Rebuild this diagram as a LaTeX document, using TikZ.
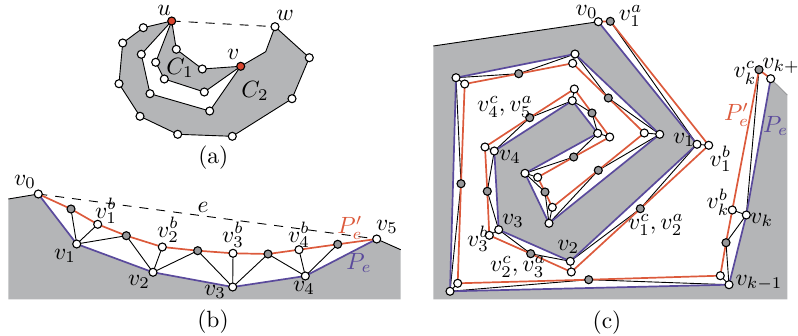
\documentclass[tikz,border=0pt]{standalone}
\pgfdeclarelayer{bg}
\pgfsetlayers{bg,main}
\definecolor{gfill}{HTML}{B4B5B7}
\definecolor{rline}{HTML}{DC5A3C}
\definecolor{bline}{HTML}{5A4A9C}
\definecolor{rnode}{HTML}{D8452E}
\definecolor{gnode}{HTML}{97989A}
\tikzset{
  pt/.style={circle,draw=black,line width=1.1pt,minimum size=8pt,inner sep=0pt},
  wn/.style={pt,fill=white},
  gn/.style={pt,fill=gnode},
  rn/.style={pt,fill=rnode},
  lbl/.style={scale=2.35,inner sep=0pt},
  blk/.style={draw=black,line width=.9pt,line join=round},
  red/.style={draw=rline,line width=1.7pt,line join=round},
  blu/.style={draw=bline,line width=1.7pt,line join=round},
  dsh/.style={draw=black,line width=.9pt,dash pattern=on 9pt off 8pt},
  shade/.style={fill=gfill,draw=none}
}
\begin{document}
\begin{tikzpicture}[x=1pt,y=-1pt]
\useasboundingbox (0,0) rectangle (798,336);
% ---------- (a)
\foreach \n/\x/\y in {a1/143.3/27.7,a2/122.7/43,a3/119/83.7,a4/140/116.3,a5/177.7/134.3,a6/232.3/136.3,a7/292/98.7,a8/309.3/57.7,w/275/26.7,a9/209.7/111,a10/150/93.7,a11/141.3/54.3,c1/176.3/49.3,c2/202.3/69,c3/204.3/92,c4/164.3/79,c5/155.7/62.3}
  \node[wn] (\n) at (\x,\y) {};
\node[rn] (u) at (171.7,21) {};
\node[rn] (v) at (240.7,66.3) {};
\coordinate (abend) at (265.7,51.7);
\begin{pgfonlayer}{bg}
\path[shade,blk,fill=gfill] (u.center)--(a1.center)--(a2.center)--(a3.center)--(a4.center)--(a5.center)--(a6.center)--(a7.center)--(a8.center)--(w.center)--(abend)--(v.center)--(a9.center)--(a10.center)--(a11.center)--cycle;
\path[shade,blk,fill=gfill] (u.center)--(c1.center)--(c2.center)--(v.center)--(c3.center)--(c4.center)--(c5.center)--cycle;
\path[dsh] (u.center)--(w.center);
\end{pgfonlayer}
\node[lbl] (lu) at (164,10) {$u$};
\node[lbl] (lw) at (285,15) {$w$};
\node[lbl] (lv) at (233.3,54) {$v$};
\node[lbl] (lc1) at (180,68) {$C_1$};
\node[lbl] (lc2) at (255,91) {$C_2$};
\node[lbl] (capa) at (213.3,158) {(a)};
% ---------- (b)
\coordinate (bl) at (8.3,199);
\coordinate (br) at (400.7,249.7);
\coordinate (bbr) at (400.7,299.3);
\coordinate (bbl) at (8.3,299.3);
\foreach \n/\x/\y in {b0/38.3/194,b1/76.7/244,b2/153/272.3,b3/232.7/287,b4/305.3/276,b5/376.7/239,bb1/97.7/224.3,bb2/162.3/247,bb3/233/253.3,bb4/299/249.7}
  \node[wn] (\n) at (\x,\y) {};
\foreach \n/\x/\y in {bg1/71/209,bg2/126.3/235.7,bg3/197.7/250.7,bg4/268/254,bg5/337.7/244.3}
  \node[gn] (\n) at (\x,\y) {};
\begin{pgfonlayer}{bg}
\path[shade] (bl)--(b0.center)--(b1.center)--(b2.center)--(b3.center)--(b4.center)--(b5.center)--(br)--(bbr)--(bbl)--cycle;
\path[blk] (bl)--(b0.center);
\path[blk] (b5.center)--(br);
\path[dsh] (b0.center)--(b5.center);
\foreach \p/\q in {bg1/b1,b1/bb1,b1/bg2,bg2/b2,b2/bb2,b2/bg3,bg3/b3,b3/bb3,b3/bg4,bg4/b4,b4/bb4,b4/bg5}
  \path[blk] (\p.center)--(\q.center);
\path[blu] (b0.center)--(b1.center)--(b2.center)--(b3.center)--(b4.center)--(b5.center);
\path[red] (b0.center)--(bg1.center)--(bb1.center)--(bg2.center)--(bb2.center)--(bg3.center)--(bb3.center)--(bg4.center)--(bb4.center)--(bg5.center)--(b5.center);
\end{pgfonlayer}
\node[lbl] (lb0) at (25,182) {$v_0$};
\node[lbl] (lb1) at (65,256) {$v_1$};
\node[lbl] (lb2) at (139,282) {$v_2$};
\node[lbl] (lb3) at (215,292) {$v_3$};
\node[lbl] (lb4) at (304,288) {$v_4$};
\node[lbl] (lb5) at (387,227) {$v_5$};
\node[lbl] (lbb1) at (106,211) {$v_1^b$};
\node[lbl] (lbb2) at (168,230) {$v_2^b$};
\node[lbl] (lbb3) at (233,235) {$v_3^b$};
\node[lbl] (lbb4) at (299,235) {$v_4^b$};
\node[lbl] (le) at (203,207) {$e$};
\node[lbl,text=rline] (lpp) at (350,228) {$P'_e$};
\node[lbl,text=bline] (lp) at (359,263) {$P_e$};
\node[lbl] (capb) at (213,322) {(b)};
% ---------- (c)
\coordinate (ctl) at (433.3,46);
\coordinate (ctr) at (787.3,95);
\coordinate (cbr) at (787.3,299.3);
\coordinate (cbl) at (433.3,299.3);
% blue path vertices
\foreach \n/\x/\y in {p0/598.3/21.7,p1/697/144.3,p2/570.3/261.3,p3/498.7/229.7,p4/494.3/151,p5/572.3/100.7,p6/597.7/133.3,p7/525/173.3,p8/549/223.3,p9/659.7/134.3,p10/575/54,p11/456/77.7,p12/450/291.3,p13/729/284.7,p14/746.3/215,p15/770.7/78.7}
  \node[wn] (\n) at (\x,\y) {};
% red path white vertices
\foreach \n/\x/\y in {q1/708.7/145.3,q2/571.3/272,q3/489.3/235.3,q4/485/147,q5/574.3/89,q6/609.7/137,q7/537.7/177.3,q8/552.3/207.3,q9/644.3/133,q10/572.7/63.3,q11/464.7/84,q12/457.7/283.3,q13/720.3/275.7,q14/732.3/210}
  \node[wn] (\n) at (\x,\y) {};
% grey vertices
\foreach \n/\x/\y in {g0/610.3/21.3,g1/640.3/208.7,g2/530.7/253.7,g3/487.3/191.3,g4/529.7/117.7,g5/592/113,g6/573.7/157,g7/545/192,g8/598.3/170.3,g9/608.3/98,g10/518.7/73.7,g11/461/183.7,g12/588.7/279.7,g13/726/242.7,g14/759/69.7}
  \node[gn] (\n) at (\x,\y) {};
\begin{pgfonlayer}{bg}
\path[shade] (ctl)--(p0.center)--(p1.center)--(p2.center)--(p3.center)--(p4.center)--(p5.center)--(p6.center)--(p7.center)--(p8.center)--(p9.center)--(p10.center)--(p11.center)--(p12.center)--(p13.center)--(p14.center)--(p15.center)--(ctr)--(cbr)--(cbl)--cycle;
\path[blk] (ctl)--(p0.center);
\path[draw=gnode,line width=.9pt] (p15.center)--(ctr);
% black links
\foreach \p/\q in {g0/p1,p1/g1,g1/p2,p2/g2,g2/p3,p3/g3,g3/p4,p4/g4,g4/p5,p5/g5,g5/p6,p6/g6,g6/p7,p7/g7,g7/p8,p8/g8,g8/p9,p9/g9,g9/p10,p10/g10,g10/p11,p11/g11,g11/p12,p12/g12,g12/p13,p13/g13,g13/p14,p14/g14,p1/q1,p2/q2,p3/q3,p4/q4,p5/q5,p6/q6,p7/q7,p8/q8,p9/q9,p10/q10,p11/q11,p12/q12,p13/q13,p14/q14}
  \path[blk] (\p.center)--(\q.center);
\path[blu] (p0.center)--(p1.center)--(p2.center)--(p3.center)--(p4.center)--(p5.center)--(p6.center)--(p7.center)--(p8.center)--(p9.center)--(p10.center)--(p11.center)--(p12.center)--(p13.center)--(p14.center)--(p15.center);
\path[red] (p0.center)--(g0.center)--(q1.center)--(g1.center)--(q2.center)--(g2.center)--(q3.center)--(g3.center)--(q4.center)--(g4.center)--(q5.center)--(g5.center)--(q6.center)--(g6.center)--(q7.center)--(g7.center)--(q8.center)--(g8.center)--(q9.center)--(g9.center)--(q10.center)--(g10.center)--(q11.center)--(g11.center)--(q12.center)--(g12.center)--(q13.center)--(g13.center)--(q14.center)--(g14.center)--(p15.center);
\end{pgfonlayer}
\node[lbl] (lp0) at (586.7,12) {$v_0$};
\node[lbl] (lg0) at (630.7,16) {$v_1^a$};
\node[lbl] (lp4c) at (505,107) {$v_4^c,v_5^a$};
\node[lbl] (lp4) at (510,157) {$v_4$};
\node[lbl] (lp1) at (684,140) {$v_1$};
\node[lbl] (lq1) at (720.7,159) {$v_1^b$};
\node[lbl] (lg14) at (745,73) {$v_k^c$};
\node[lbl] (lp15) at (781,66) {$v_{k+}$};
\node[lbl,text=rline] (lcpp) at (736.7,115) {$P'_e$};
\node[lbl,text=bline] (lcp) at (775.7,126) {$P_e$};
\node[lbl] (lp3) at (513,221) {$v_3$};
\node[lbl] (lp2) at (568.3,247) {$v_2$};
\node[lbl] (lq3) at (478,239) {$v_3^b$};
\node[lbl] (lg2) at (518,267) {$v_2^c,v_3^a$};
\node[lbl] (lg1) at (656,225) {$v_1^c,v_2^a$};
\node[lbl] (lq14) at (718,202) {$v_k^b$};
\node[lbl] (lp14) at (761.7,220) {$v_k$};
\node[lbl] (lp13) at (759,283) {$v_{k-1}$};
\node[lbl] (capc) at (607,323) {(c)};
\end{tikzpicture}
\end{document}
